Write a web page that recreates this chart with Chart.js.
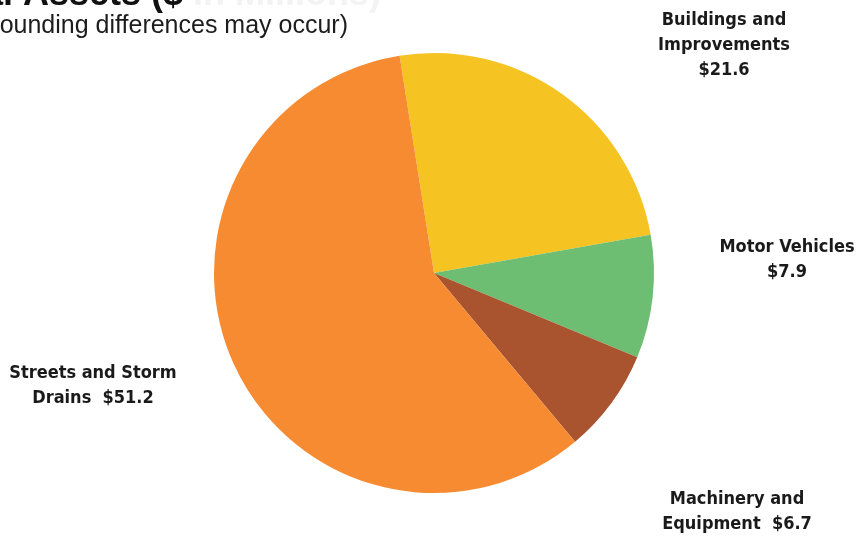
<!DOCTYPE html>
<html>
<head>
<meta charset="utf-8">
<script src="https://cdn.jsdelivr.net/npm/chart.js@4"></script>
<style>
  html, body { margin: 0; padding: 0; background: #fff; }
  #wrap { width: 856px; height: 537px; position: relative; }
</style>
</head>
<body>
<div id="wrap"><canvas id="pie"></canvas></div>
<script>
"use strict";

// capital assets by type, $ in millions
const categories = ["Buildings and Improvements", "Motor Vehicles", "Machinery and Equipment", "Streets and Storm Drains"];
const values = [21.6, 7.9, 6.7, 51.2];
const colors = ["#f5c322", "#6dbd72", "#a9532f", "#f78b32"];

// label text broken over lines; the value goes where "$" sits
const labelLines = [
  ["Buildings and", "Improvements", "$"],
  ["Motor Vehicles", "$"],
  ["Machinery and", "Equipment  $"],
  ["Streets and Storm", "Drains  $"],
];
const labelAt = [
  { x: 724, y: 20 },
  { x: 787, y: 247 },
  { x: 737, y: 499 },
  { x: 93, y: 373 },
];

const sliceLabels = {
  id: "sliceLabels",
  afterDraw(chart) {
    const ctx = chart.ctx;
    ctx.save();
    // header, mostly cut off at the top edge
    ctx.textBaseline = "alphabetic";
    ctx.textAlign = "right";
    ctx.fillStyle = "#111";
    ctx.font = "bold 36px 'Liberation Sans', Arial, sans-serif";
    ctx.fillText("Capital Assets ($", 183, 5);
    ctx.textAlign = "left";
    ctx.fillStyle = "#f3f3f3";
    ctx.fillText(" in Millions)", 183, 5);
    ctx.fillStyle = "#1c1c1c";
    ctx.font = "25px 'Liberation Sans', Arial, sans-serif";
    ctx.textAlign = "right";
    ctx.fillText("(rounding differences may occur)", 348, 33);

    ctx.font = "bold 18px 'DejaVu Sans Condensed', 'Liberation Sans Narrow', sans-serif";
    ctx.textAlign = "center";
    ctx.textBaseline = "middle";
    ctx.fillStyle = "#1a1a1a";
    labelLines.forEach((lines, i) => {
      const p = labelAt[i];
      lines.forEach((ln, j) => {
        const txt = ln.endsWith("$") ? ln + values[i].toFixed(1) : ln;
        ctx.fillText(txt, p.x, p.y + j * 25);
      });
    });
    ctx.restore();
  },
};

new Chart(document.getElementById("pie"), {
  type: "pie",
  data: {
    labels: categories,
    datasets: [{
      data: values,
      backgroundColor: colors,
      borderWidth: 0,
    }],
  },
  options: {
    responsive: true,
    maintainAspectRatio: false,
    animation: false,
    rotation: -9,
    layout: { padding: { left: 214, right: 202, top: 53, bottom: 44 } },
    plugins: { legend: { display: false }, tooltip: { enabled: false } },
  },
  plugins: [sliceLabels],
});
</script>
</body>
</html>
